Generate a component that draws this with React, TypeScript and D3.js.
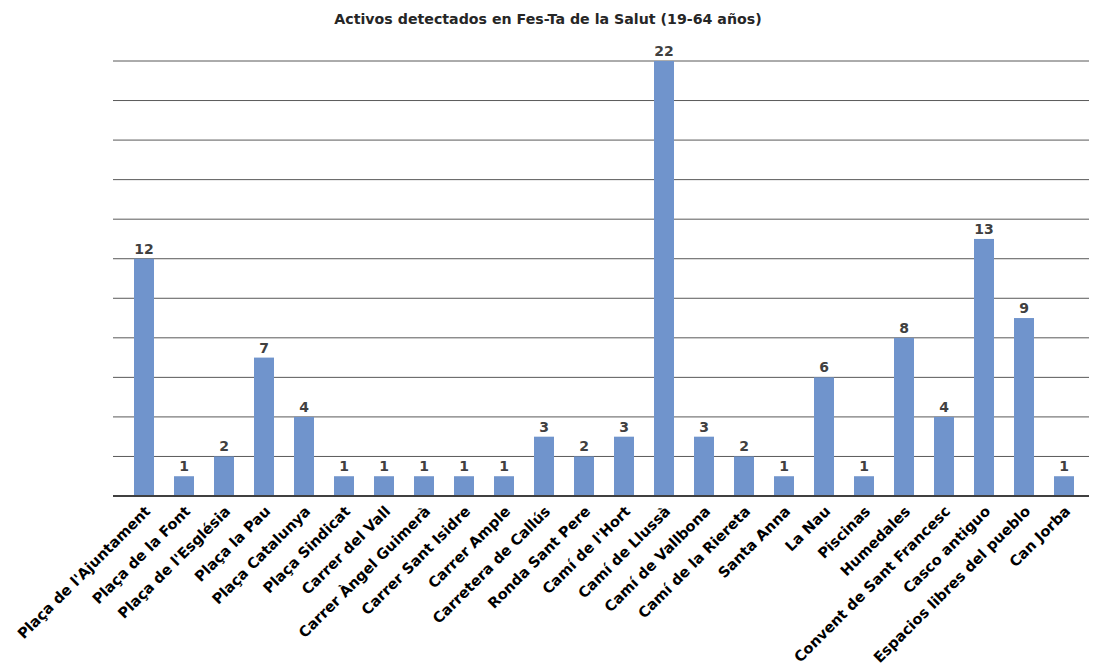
import React from "react";
import * as d3 from "d3";

const categories: string[] = [
  "Plaça de l'Ajuntament",
  "Plaça de la Font",
  "Plaça de l'Església",
  "Plaça la Pau",
  "Plaça Catalunya",
  "Plaça Sindicat",
  "Carrer del Vall",
  "Carrer Àngel Guimerà",
  "Carrer Sant Isidre",
  "Carrer Ample",
  "Carretera de Callús",
  "Ronda Sant Pere",
  "Camí de l'Hort",
  "Camí de Llussà",
  "Camí de Vallbona",
  "Camí de la Riereta",
  "Santa Anna",
  "La Nau",
  "Piscinas",
  "Humedales",
  "Convent de Sant Francesc",
  "Casco antiguo",
  "Espacios libres del pueblo",
  "Can Jorba",
];
const values: number[] = [12, 1, 2, 7, 4, 1, 1, 1, 1, 1, 3, 2, 3, 22, 3, 2, 1, 6, 1, 8, 4, 13, 9, 1];
const gridTicks: number[] = [0, 2, 4, 6, 8, 10, 12, 14, 16, 18, 20, 22];
const title = "Activos detectados en Fes-Ta de la Salut (19-64 años)";

const W = 1098;
const H = 666;
const FONT = "'DejaVu Sans', sans-serif";

export default function App() {
  const x = d3.scaleBand<string>().domain(categories).range([124, 1084]).paddingInner(0.5).paddingOuter(0.25);
  const y = d3.scaleLinear().domain([0, 22]).range([496, 61]);
  const gridX0 = 113;
  const gridX1 = 1089;
  return (
    <svg width={W} height={H} style={{ position: "absolute", left: 0, top: 0, background: "#fff" }}>
      <text x={548} y={24} textAnchor="middle" fontFamily={FONT} fontWeight="bold" fontSize={14.2} fill="#262626">
        {title}
      </text>
      {gridTicks.filter((t) => t > 0).map((t) => (
        <line key={t} x1={gridX0} x2={gridX1} y1={y(t)} y2={y(t)} stroke="#595959" strokeWidth={1} />
      ))}
      {categories.map((c, i) => (
        <rect key={c} x={x(c)} y={y(values[i])} width={x.bandwidth()} height={y(0) - y(values[i])} fill="#7094CC" />
      ))}
      <line x1={gridX0} x2={gridX1} y1={y(0)} y2={y(0)} stroke="#404040" strokeWidth={2} />
      {categories.map((c, i) => (
        <text
          key={"v" + c}
          x={(x(c) ?? 0) + x.bandwidth() / 2}
          y={y(values[i]) - 5}
          textAnchor="middle"
          fontFamily={FONT}
          fontWeight="bold"
          fontSize={14}
          fill="#404040"
        >
          {values[i]}
        </text>
      ))}
      {categories.map((c) => {
        const cx = (x(c) ?? 0) + x.bandwidth() / 2;
        return (
          <text
            key={"l" + c}
            transform={`translate(${cx},${505}) rotate(-45)`}
            textAnchor="end"
            dy="0.7em"
            fontFamily={FONT}
            fontWeight="bold"
            fontSize={14.6}
            fill="#000"
          >
            {c}
          </text>
        );
      })}
    </svg>
  );
}
